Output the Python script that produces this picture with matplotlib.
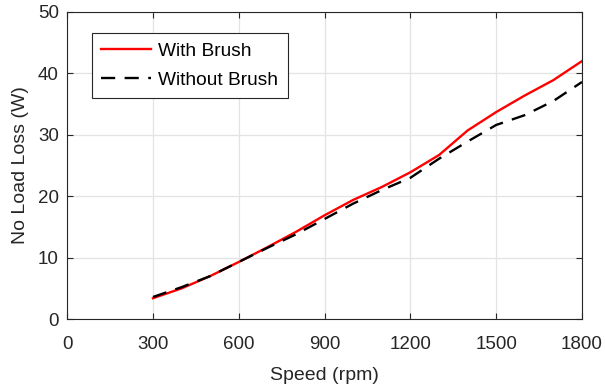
import matplotlib
matplotlib.use('Agg')
import matplotlib.pyplot as plt

speed = [300, 400, 500, 600, 700, 800, 900, 1000, 1100, 1200, 1300, 1400, 1500, 1600, 1700, 1800]
with_brush = [3.4, 5.0, 7.0, 9.3, 11.7, 14.2, 16.9, 19.4, 21.5, 23.9, 26.7, 30.7, 33.7, 36.4, 38.9, 42.0]
without_brush = [3.6, 5.2, 7.0, 9.3, 11.6, 13.8, 16.3, 18.8, 21.0, 23.0, 26.1, 28.9, 31.6, 33.2, 35.5, 38.6]
xticks = [0, 300, 600, 900, 1200, 1500, 1800]
yticks = [0, 10, 20, 30, 40, 50]

plt.rcParams['font.family'] = ['Liberation Sans', 'DejaVu Sans']
dark = (0.15, 0.15, 0.15)

fig = plt.figure(figsize=(6.05, 3.84), dpi=100)
ax = fig.add_axes([0.111, 0.169, 0.851, 0.8])

ax.plot(speed, with_brush, color='red', lw=1.7, label='With Brush')
ax.plot(speed, without_brush, color='black', lw=1.7, ls=(0, (6, 4)), label='Without Brush')

ax.set_xlim(0, 1800)
ax.set_ylim(0, 50)
ax.set_xticks(xticks)
ax.set_yticks(yticks)
ax.grid(True, color='#e3e3e3', lw=0.9)
ax.set_axisbelow(True)
ax.tick_params(direction='in', top=True, right=True, length=4, labelsize=13.5,
               colors=dark, pad=6)
ax.tick_params(axis='x', pad=12)
for s in ax.spines.values():
    s.set_color(dark)
    s.set_linewidth(0.8)

ax.set_xlabel('Speed (rpm)', fontsize=14, color=dark, labelpad=10)
ax.set_ylabel('No Load Loss (W)', fontsize=14, color=dark, labelpad=6)

leg = ax.legend(loc='upper left', bbox_to_anchor=(0.048, 0.932), borderaxespad=0,
                fontsize=13.8, fancybox=False, framealpha=1, edgecolor=dark,
                handlelength=2.6, handletextpad=0.35, borderpad=0.5,
                labelspacing=0.6)
leg.get_frame().set_linewidth(0.8)

fig.savefig('out.png', dpi=100)
